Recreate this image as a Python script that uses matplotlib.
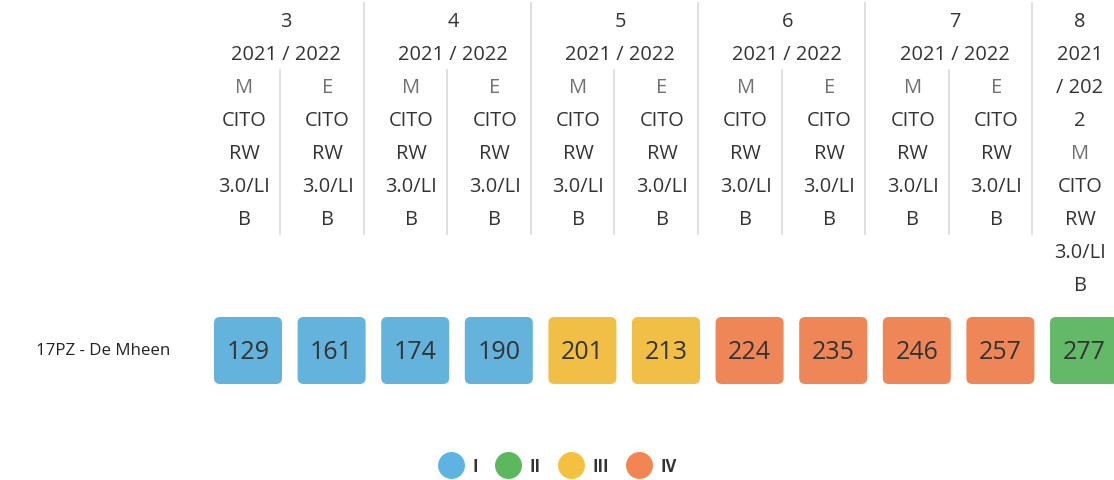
import matplotlib
matplotlib.use('Agg')
import matplotlib.pyplot as plt
from matplotlib.patches import FancyBboxPatch
from matplotlib.lines import Line2D

plt.rcParams['font.family'] = ['Open Sans', 'DejaVu Sans']

# data
school = '17PZ - De Mheen'
groups = ['3', '4', '5', '6', '7', '8']
year = '2021 / 2022'
moments = ['M', 'E', 'M', 'E', 'M', 'E', 'M', 'E', 'M', 'E', 'M']
col_group = [0, 0, 1, 1, 2, 2, 3, 3, 4, 4, 5]
test_lines = ['CITO', 'RW', '3.0/LI', 'B']
scores = [129, 161, 174, 190, 201, 213, 224, 235, 246, 257, 277]
levels = ['I', 'I', 'I', 'I', 'III', 'III', 'IV', 'IV', 'IV', 'IV', 'II']
level_names = ['I', 'II', 'III', 'IV']
level_colors = {'I': '#63b3dc', 'II': '#63b967', 'III': '#f1bf46', 'IV': '#ee8657'}
legend_colors = {'I': '#5db4e2', 'II': '#5cb85c', 'III': '#f4c03f', 'IV': '#f28552'}

W, H = 1114, 481
fig = plt.figure(figsize=(W / 100, H / 100), dpi=100)
ax = fig.add_axes([0, 0, 1, 1])
ax.set_xlim(0, W)
ax.set_ylim(H, 0)
ax.axis('off')

step = 83.6
head_x0 = 244      # centre of first header cell
box_x0 = 214       # left of first box
box_w, box_h = 68, 67
box_top = 318
line_h = 33
dark = '#333333'
fs_head = 14.4

# header: group headers
for g, name in enumerate(groups):
    cols = [i for i, c in enumerate(col_group) if c == g]
    if len(cols) > 1:
        xc = head_x0 + step * (cols[0] + cols[-1]) / 2
        ax.text(xc, 22, name, ha='center', va='center', fontsize=fs_head, color=dark)
        ax.text(xc, 22 + line_h, year, ha='center', va='center', fontsize=fs_head, color=dark)

# per-column header text
for i, m in enumerate(moments):
    xc = head_x0 + step * i
    if col_group.count(col_group[i]) > 1:
        lines = [m] + test_lines
        y0 = 22 + 2 * line_h
    else:
        # narrow last column: the year wraps
        lines = [groups[col_group[i]], '2021', '/ 202', '2', m] + test_lines
        y0 = 22
    for k, t in enumerate(lines):
        c = '#707070' if t == m else dark
        ax.text(xc, y0 + k * line_h, t, ha='center', va='center', fontsize=fs_head, color=c)

# separators
for k in range(len(moments) - 1):
    x = 280 + step * k
    top = 3 if col_group[k] != col_group[k + 1] else 70
    ax.plot([x, x], [top, 236], color='#dadada', lw=1.2, solid_capstyle='butt')

# row label
ax.text(36, box_top + box_h / 2, school, ha='left', va='center', fontsize=12.2, color='#222222')

# score boxes
for i, (s, lv) in enumerate(zip(scores, levels)):
    x = box_x0 + step * i
    ax.add_patch(FancyBboxPatch((x, box_top), box_w, box_h,
                                boxstyle='round,pad=0,rounding_size=6',
                                fc=level_colors[lv], ec='none'))
    ax.text(x + box_w / 2, box_top + box_h / 2 + 1, str(s), ha='center', va='center',
            fontsize=18, color='#333333')

# legend
handles = [Line2D([], [], ls='none', marker='o', markersize=19.4,
                  markerfacecolor=legend_colors[n], markeredgecolor='none', label=n)
           for n in level_names]
leg = ax.legend(handles=handles, ncol=4, loc='center', bbox_to_anchor=(0.5, 1 - 467 / H),
                frameon=False, prop={'size': 12, 'weight': 'bold'}, handlelength=1.6,
                handletextpad=0.5, columnspacing=1.0, labelcolor='#333333')

fig.savefig('out.png', dpi=100)
